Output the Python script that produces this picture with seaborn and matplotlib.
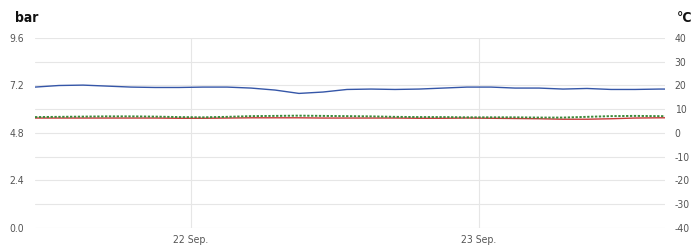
import numpy as np
import pandas as pd
import matplotlib
matplotlib.use("Agg")
import matplotlib.pyplot as plt
import matplotlib.dates as mdates
import seaborn as sns

# ---- data ----
times = pd.date_range("2023-09-21 11:00", periods=28, freq="2h")
pressure_bar = [7.12, 7.20, 7.22, 7.17, 7.12, 7.10, 7.10, 7.12, 7.12, 7.07,
                6.97, 6.80, 6.87, 7.00, 7.02, 7.00, 7.02, 7.07, 7.12, 7.12,
                7.07, 7.07, 7.02, 7.05, 7.00, 7.00, 7.02, 7.02]
temp_red = [6.3, 6.3, 6.3, 6.3, 6.3, 6.3, 6.2, 6.2, 6.3, 6.4,
            6.4, 6.4, 6.3, 6.3, 6.3, 6.3, 6.2, 6.2, 6.3, 6.2,
            6.1, 6.0, 5.8, 5.8, 6.0, 6.3, 6.4, 6.4]
temp_green = [6.7, 6.8, 6.9, 7.0, 7.0, 6.9, 6.7, 6.6, 6.8, 7.1,
              7.2, 7.3, 7.2, 7.1, 7.0, 6.8, 6.7, 6.7, 6.6, 6.6,
              6.6, 6.5, 6.5, 6.8, 7.1, 7.2, 7.1, 7.1]
left_ticks = [0.0, 2.4, 4.8, 7.2, 9.6]
right_ticks = [-40, -30, -20, -10, 0, 10, 20, 30, 40]

df = pd.DataFrame({"time": times, "pressure": pressure_bar,
                   "t1": temp_red, "t2": temp_green})

sns.set_theme(style="white")
plt.rcParams["font.family"] = ["DejaVu Sans"]
plt.rcParams["font.stretch"] = "condensed"

fig = plt.figure(figsize=(7.0, 2.47), dpi=100)
ax = fig.add_axes([35/700, 19/247, 630/700, 190/247])
ax2 = ax.twinx()
ax.set_zorder(1)
ax.patch.set_visible(False)
ax2.set_zorder(2)

grid_c = "#e6e6e6"
for y in right_ticks:
    ax.axhline((y + 40) / 80 * 9.6, color=grid_c, lw=0.8, zorder=0)
for d in pd.to_datetime(["2023-09-22", "2023-09-23"]):
    ax.axvline(d, color=grid_c, lw=0.8, zorder=0)

sns.lineplot(data=df, x="time", y="pressure", ax=ax, color="#3556a8", lw=1.0)
sns.lineplot(data=df, x="time", y="t1", ax=ax2, color="#c83a3a", lw=1.0)
sns.lineplot(data=df, x="time", y="t2", ax=ax2, color="#3b8a3b", lw=1.4,
             linestyle=(0, (1.2, 0.8)))

ax.set_ylim(0, 9.6)
ax2.set_ylim(-40, 40)
ax.set_xlim(pd.Timestamp("2023-09-21 11:00"), pd.Timestamp("2023-09-23 15:30"))
ax.set_yticks(left_ticks)
ax.set_yticklabels([f"{v:.1f}" for v in left_ticks])
ax2.set_yticks(right_ticks)
ax2.set_yticklabels([str(v) for v in right_ticks])

ax.xaxis.set_major_locator(mdates.DayLocator())
ax.xaxis.set_major_formatter(mdates.DateFormatter("%-d Sep."))

for a in (ax, ax2):
    for s in a.spines.values():
        s.set_visible(False)
    a.set_xlabel("")
    a.set_ylabel("")
    a.tick_params(length=0, labelsize=7.5, labelcolor="#555555", pad=4)
ax.tick_params(axis="y", pad=8)
ax.tick_params(axis="x", pad=5)
ax2.tick_params(axis="y", pad=7)

fig.text(15/700, 1 - 18/247, "bar", fontsize=10, fontweight="bold",
         ha="left", va="center", color="#111111")
fig.text(692/700, 1 - 18/247, "°C", fontsize=10, fontweight="bold",
         ha="right", va="center", color="#111111")

fig.savefig("out.png", dpi=100)
